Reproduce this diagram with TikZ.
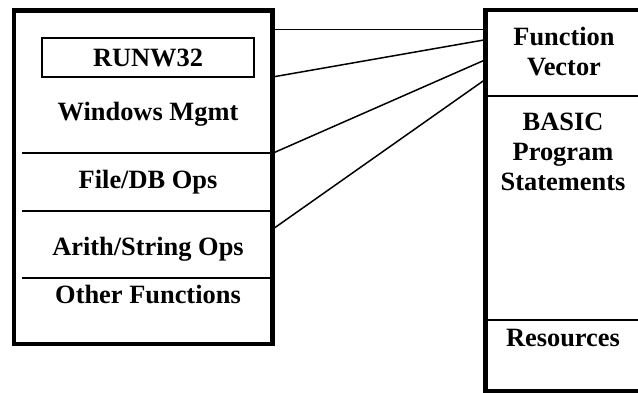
\documentclass[tikz,border=0pt]{standalone}
\usepackage{fontspec}
\setmainfont{Liberation Serif}
\usetikzlibrary{positioning}

\tikzset{
  lbl/.style={font=\bfseries\fontsize{13.2}{15}\selectfont, align=center, inner sep=0pt, anchor=base},
  frame/.style={line width=2.3pt},
  divider/.style={line width=1pt},
  link/.style={line width=0.75pt}
}

\begin{document}
\begin{tikzpicture}[x=0.5pt,y=-0.5pt]
\useasboundingbox (0,0) rectangle (638,392);
\begin{scope}
\clip (0,0) rectangle (638,392);
% the two blocks
\draw[frame] (14,10.5) rectangle (272.5,344);
\draw[frame] (485.5,10) rectangle (660,391);
\end{scope}

% left block
\node[draw, line width=0.8pt, minimum width=106pt, minimum height=19.5pt, inner sep=0pt] (runbox) at (148,57.5) {};
\node[lbl] (runw) at (148,66.5) {RUNW32};
\node[lbl] (winmgmt) at (148,120) {Windows Mgmt};
\node[lbl] (fileops) at (148,188.3) {File/DB Ops};
\node[lbl] (arith) at (148,255) {Arith/String Ops};
\node[lbl] (other) at (148,303.3) {Other Functions};
\draw[divider] (22,153.3) -- (272.5,153.3);
\draw[divider] (22,211) -- (272.5,211);
\draw[divider] (22,278.3) -- (272.5,278.3);

% right block (base = last line)
\node[lbl] (fvec) at (564,75) {Function\\Vector};
\node[lbl] (basic) at (563,190) {BASIC\\Program\\Statements};
\node[lbl] (res) at (563,346.7) {Resources};
\draw[divider] (485.5,95.7) -- (638,95.7);
\draw[divider] (485.5,320) -- (638,320);

% links
\coordinate (la) at (272.5,29.7);
\coordinate (lb) at (272.5,77);
\coordinate (lc) at (272.5,153.3);
\coordinate (ld) at (272.5,229.3);
\coordinate (ra) at (485.5,29.7);
\coordinate (rb) at (485.5,39.7);
\coordinate (rc) at (485.5,59.7);
\coordinate (rd) at (485.5,79.3);
\draw[link] (la) -- (ra);
\draw[link] (lb) -- (rb);
\draw[link] (lc) -- (rc);
\draw[link] (ld) -- (rd);
\end{tikzpicture}
\end{document}
